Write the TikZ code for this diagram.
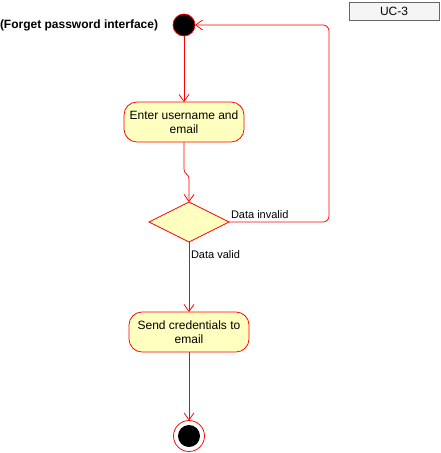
\documentclass[tikz,border=0pt]{standalone}
\usepackage{fontspec}
\setmainfont{Liberation Sans}
\usetikzlibrary{arrows.meta,shapes.geometric}
\definecolor{uline}{HTML}{FF0000}
\definecolor{ufill}{HTML}{FFFFC0}
\definecolor{ucbox}{HTML}{F5F5F5}
\definecolor{ucline}{HTML}{666666}
\begin{document}
\begin{tikzpicture}[x=1pt,y=-1pt,
  every node/.style={inner sep=0pt,outer sep=0pt},
  action/.style={draw=uline,fill=ufill,rounded corners=13pt,minimum width=120pt,minimum height=40pt,align=center,font=\fontsize{12}{14}\selectfont,line width=0.75pt},
  decision/.style={draw=uline,fill=ufill,diamond,minimum width=80pt,minimum height=40pt,aspect=2,line width=0.75pt},
  flow/.style={draw=uline,line width=0.75pt,-{Straight Barb[length=7pt,width=10pt,line width=0.75pt]}},
  lbl/.style={font=\fontsize{11}{13}\selectfont}
]
\useasboundingbox (0,0) rectangle (440,453);
\node[draw=ucline,fill=ucbox,minimum width=90pt,minimum height=18pt,font=\fontsize{12}{14}\selectfont,line width=0.5pt] (uc) at (394,11) {UC-3};
\node[circle,draw=uline,fill=black,minimum size=22pt,line width=0.75pt] (start) at (184,25) {};
\node[anchor=west,font=\bfseries\fontsize{12}{14}\selectfont] (title) at (0,25) {(Forget password interface)};
\node[action] (enter) at (184,122) {Enter username and\\email};
\node[decision] (dec) at (189,222) {};
\node[action] (send) at (189,332) {Send credentials to\\email};
\node[circle,draw=uline,fill=white,minimum size=31pt,line width=0.75pt] (end) at (189,436) {};
\node[circle,fill=black,minimum size=22pt] (endin) at (189,436) {};
\coordinate (j1) at (184,168);
\coordinate (j2) at (189,180);
\coordinate (c1) at (329,222);
\coordinate (c2) at (329,25);
\draw[flow] (enter.south) -- (j1) .. controls (184,176) and (189,172) .. (j2) -- (dec.north);
\draw[flow,rounded corners=6pt] (dec.east) -- (c1) -- (c2) -- (start.east);
\draw[flow] (dec.south) -- (send.north);
\draw[flow] (send.south) -- (end.north);
\draw[flow] (start.south) -- (enter.north);
\node[lbl,anchor=south west] (inv) at (231,219) {Data invalid};
\node[lbl,anchor=north west] (val) at (191,251) {Data valid};
\end{tikzpicture}
\end{document}
